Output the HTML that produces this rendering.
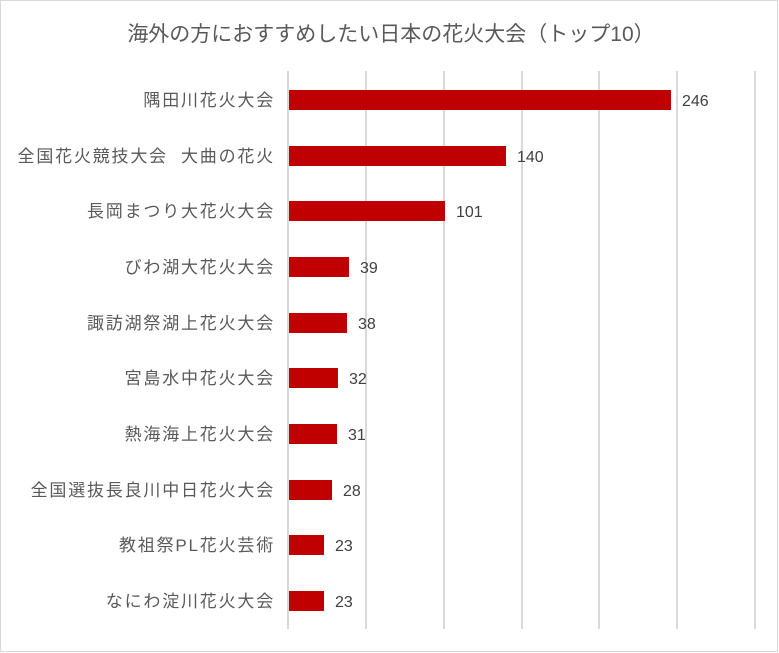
<!DOCTYPE html>
<html><head><meta charset="utf-8"><style>
body{margin:0;background:#fff;}
svg{display:block;font-family:"Liberation Sans","Noto Sans CJK JP",sans-serif;}
</style></head><body>
<svg width="779" height="653" xmlns="http://www.w3.org/2000/svg">
<rect x="0.5" y="0.5" width="777" height="651" fill="#fff" stroke="#d9d9d9"/>
<text x="391" y="41" text-anchor="middle" font-size="21" fill="#595959">海外の方におすすめしたい日本の花火大会（トップ10）</text>
<g stroke="#d9d9d9" stroke-width="2">
<line x1="288" y1="71" x2="288" y2="629"/>
<line x1="366" y1="71" x2="366" y2="629"/>
<line x1="444" y1="71" x2="444" y2="629"/>
<line x1="522" y1="71" x2="522" y2="629"/>
<line x1="599" y1="71" x2="599" y2="629"/>
<line x1="677" y1="71" x2="677" y2="629"/>
<line x1="755" y1="71" x2="755" y2="629"/>
</g>
<g fill="#c00000">
<rect x="289" y="90" width="382" height="20"/>
<rect x="289" y="146" width="217" height="20"/>
<rect x="289" y="201" width="156" height="20"/>
<rect x="289" y="257" width="60" height="20"/>
<rect x="289" y="313" width="58" height="20"/>
<rect x="289" y="368" width="49" height="20"/>
<rect x="289" y="424" width="48" height="20"/>
<rect x="289" y="480" width="43" height="20"/>
<rect x="289" y="535" width="35" height="20"/>
<rect x="289" y="591" width="35" height="20"/>
</g>
<g font-size="16" fill="#404040">
<text x="682" y="106">246</text>
<text x="517" y="162">140</text>
<text x="456" y="217">101</text>
<text x="360" y="273">39</text>
<text x="358" y="329">38</text>
<text x="349" y="384">32</text>
<text x="348" y="440">31</text>
<text x="343" y="496">28</text>
<text x="335" y="551">23</text>
<text x="335" y="607">23</text>
</g>
<g font-size="17" letter-spacing="1.8" fill="#595959" text-anchor="end">
<text x="275" y="106">隅田川花火大会</text>
<text x="275" y="162">全国花火競技大会&#160;&#160;大曲の花火</text>
<text x="275" y="217">長岡まつり大花火大会</text>
<text x="275" y="273">びわ湖大花火大会</text>
<text x="275" y="329">諏訪湖祭湖上花火大会</text>
<text x="275" y="384">宮島水中花火大会</text>
<text x="275" y="440">熱海海上花火大会</text>
<text x="275" y="496">全国選抜長良川中日花火大会</text>
<text x="275" y="551">教祖祭PL花火芸術</text>
<text x="275" y="607">なにわ淀川花火大会</text>
</g>
</svg>
</body></html>
